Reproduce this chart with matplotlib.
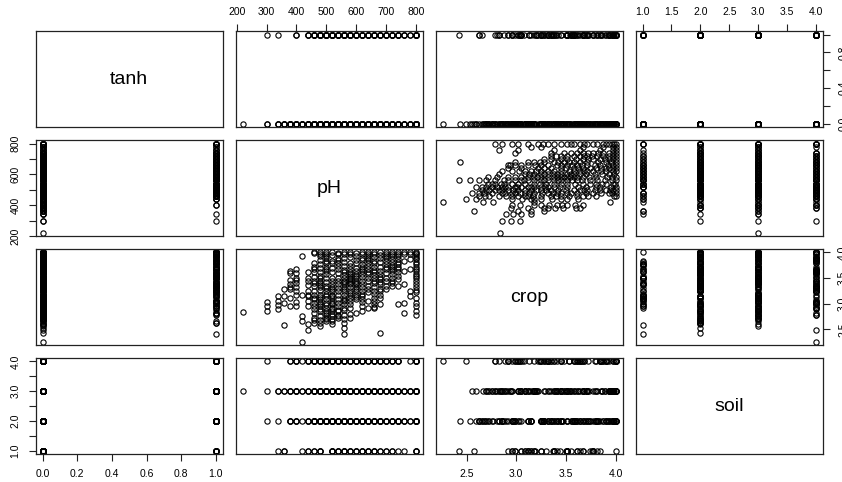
import matplotlib
matplotlib.use("Agg")
import matplotlib.pyplot as plt

plt.rcParams['font.family'] = ['Liberation Sans', 'DejaVu Sans']

# ---- data (one entry per observation, read column by column of the pH axis) ----
ph = [220,
      300, 300, 300,
      340, 340, 340, 340,
      360, 360, 360, 360,
      380, 380, 380, 380, 380, 380,
      400, 400, 400, 400, 400, 400, 400,
      420, 420, 420, 420, 420,
      440, 440, 440, 440, 440, 440, 440, 440,
      460, 460, 460, 460, 460, 460, 460, 460, 460, 460, 460, 460, 460,
      480, 480, 480, 480, 480, 480, 480, 480, 480, 480, 480, 480, 480, 480, 480, 480,
      500, 500, 500, 500, 500, 500, 500, 500, 500, 500, 500, 500, 500, 500, 500, 500, 500,
      520, 520, 520, 520, 520, 520, 520, 520, 520, 520, 520, 520, 520, 520, 520, 520,
      540, 540, 540, 540, 540, 540, 540, 540, 540, 540, 540, 540,
      560, 560, 560, 560, 560, 560, 560, 560, 560, 560, 560, 560, 560, 560, 560, 560, 560,
      580, 580, 580, 580, 580, 580, 580, 580, 580, 580, 580, 580, 580, 580,
      600, 600, 600, 600, 600, 600, 600, 600, 600, 600, 600,
      620, 620, 620, 620, 620, 620, 620, 620, 620, 620, 620, 620, 620, 620,
      640, 640, 640, 640, 640, 640, 640, 640, 640, 640, 640,
      660, 660, 660, 660, 660, 660, 660, 660, 660, 660, 660, 660, 660, 660,
      680, 680, 680, 680, 680, 680, 680, 680, 680, 680, 680,
      700, 700, 700, 700, 700, 700, 700, 700,
      720, 720, 720, 720, 720, 720, 720, 720, 720,
      740, 740, 740, 740, 740, 740, 740, 740, 740,
      760, 760, 760, 760, 760, 760, 760,
      780, 780, 780, 780, 780, 780,
      800, 800, 800, 800, 800, 800, 800, 800, 800, 800, 800, 800, 800, 800, 800, 800,
      # further observations in the dense part of the cloud
      380, 380,
      400, 400, 400,
      440, 440, 440,
      460, 460, 460, 460, 460, 460, 460, 460,
      480, 480, 480, 480, 480, 480, 480, 480, 480, 480,
      500, 500, 500, 500, 500, 500, 500, 500, 500, 500,
      520, 520, 520, 520, 520, 520, 520, 520, 520, 520,
      540, 540, 540, 540, 540, 540, 540, 540, 540, 540,
      560, 560, 560, 560, 560, 560, 560, 560, 560, 560,
      580, 580, 580, 580, 580, 580, 580, 580, 580, 580,
      600, 600, 600, 600, 600, 600, 600, 600,
      620, 620, 620, 620, 620, 620,
      640, 640, 640, 640, 640, 640,
      660, 660, 660, 660, 660, 660,
      680, 680, 680, 680, 680, 680,
      700, 700, 700, 700, 700,
      720, 720, 720, 720, 720,
      740, 740, 740, 740,
      800, 800, 800, 800, 800, 800, 800, 800]

crop = [2.84,
        3.04, 2.95, 2.86,
        3.15, 3.05, 2.97, 2.90,
        3.28, 3.15, 3.02, 2.58,
        3.64, 3.60, 3.39, 3.32, 3.28, 2.95,
        3.67, 3.51, 3.41, 3.33, 3.25, 3.18, 2.96,
        3.94, 3.18, 2.77, 2.67, 2.26,
        3.51, 3.45, 3.25, 3.18, 3.15, 2.96, 2.60, 2.49,
        4.00, 3.80, 3.67, 3.61, 3.45, 3.35, 3.25, 3.12, 3.09, 2.96, 2.83, 2.73, 2.63,
        4.00, 3.93, 3.77, 3.61, 3.51, 3.45, 3.41, 3.32, 3.18, 3.09, 2.99, 2.96, 2.86, 2.76, 2.63, 2.56,
        4.00, 3.97, 3.90, 3.84, 3.71, 3.64, 3.58, 3.35, 3.25, 3.15, 3.09, 3.02, 2.92, 2.86, 2.79, 2.73, 2.70,
        4.00, 3.84, 3.80, 3.51, 3.38, 3.32, 3.25, 3.18, 3.12, 3.05, 2.99, 2.92, 2.86, 2.76, 2.70, 2.60,
        3.97, 3.90, 3.80, 3.74, 3.67, 3.51, 3.38, 3.18, 3.09, 2.96, 2.79, 2.76,
        4.00, 3.74, 3.61, 3.51, 3.45, 3.38, 3.32, 3.25, 3.18, 3.12, 3.05, 2.99, 2.92, 2.70, 2.63, 2.53, 2.42,
        4.00, 3.67, 3.61, 3.58, 3.54, 3.51, 3.45, 3.38, 3.32, 3.25, 3.18, 3.12, 2.99, 2.92,
        3.93, 3.64, 3.58, 3.51, 3.45, 3.38, 3.32, 3.25, 3.18, 3.09, 2.83,
        4.00, 3.97, 3.90, 3.77, 3.71, 3.64, 3.58, 3.45, 3.32, 3.25, 3.15, 3.09, 2.96, 2.86,
        4.00, 3.97, 3.90, 3.80, 3.67, 3.58, 3.45, 3.35, 3.22, 3.05, 2.92,
        4.00, 3.97, 3.84, 3.71, 3.61, 3.51, 3.41, 3.32, 3.25, 3.12, 3.05, 2.99, 2.94, 2.92,
        4.00, 3.90, 3.71, 3.58, 3.48, 3.38, 3.28, 3.18, 3.12, 2.99, 2.43,
        4.00, 3.93, 3.84, 3.77, 3.67, 3.45, 3.35, 3.28,
        4.00, 3.97, 3.87, 3.71, 3.64, 3.58, 3.51, 3.45, 3.35,
        4.00, 3.93, 3.87, 3.77, 3.67, 3.61, 3.48, 3.35, 2.99,
        4.00, 3.97, 3.84, 3.64, 3.38, 3.02, 2.83,
        4.00, 3.97, 3.87, 3.67, 3.25, 3.15,
        4.00, 3.93, 3.87, 3.77, 3.71, 3.64, 3.58, 3.51, 3.45, 3.32, 3.22, 3.12, 3.02, 2.96, 2.86, 2.79,
        # further observations
        3.47, 3.12,
        3.59, 3.46, 3.04,
        3.62, 3.36, 3.06,
        3.98, 3.72, 3.53, 3.40, 3.17, 3.02, 2.90, 2.69,
        3.96, 3.85, 3.70, 3.55, 3.37, 3.26, 3.13, 3.04, 2.89, 2.68,
        3.94, 3.79, 3.68, 3.50, 3.42, 3.30, 3.20, 2.97, 2.83, 2.66,
        3.95, 3.70, 3.62, 3.44, 3.29, 3.15, 3.01, 2.81, 2.89, 2.66,
        3.99, 3.86, 3.59, 3.45, 3.30, 3.24, 3.02, 2.88, 2.85, 2.72,
        3.96, 3.89, 3.81, 3.66, 3.56, 3.42, 3.28, 3.08, 2.88, 2.79,
        3.96, 3.91, 3.80, 3.73, 3.48, 3.41, 3.21, 3.05, 2.81, 2.72,
        3.98, 3.86, 3.79, 3.70, 3.55, 3.41, 3.28, 3.13,
        3.85, 3.68, 3.53, 3.38, 3.20, 3.03,
        3.93, 3.85, 3.74, 3.62, 3.50, 3.28,
        3.92, 3.79, 3.66, 3.56, 3.45, 3.19,
        3.95, 3.82, 3.64, 3.53, 3.42, 3.24,
        3.97, 3.89, 3.72, 3.60, 3.51,
        3.93, 3.81, 3.76, 3.68, 3.40,
        3.97, 3.82, 3.72, 3.55,
        3.98, 3.96, 3.90, 3.81, 3.68, 3.55, 3.38, 3.27]

tanh = [0,
        1, 0, 0,
        0, 1, 0, 0,
        0, 0, 0, 0,
        0, 0, 0, 0, 0, 0,
        0, 1, 0, 0, 0, 0, 0,
        0, 0, 0, 0, 0,
        1, 0, 1, 0, 0, 0, 0, 0,
        1, 0, 1, 0, 0, 1, 0, 0, 0, 1, 0, 0, 0,
        1, 0, 1, 0, 1, 0, 0, 1, 0, 0, 1, 0, 0, 0, 1, 0,
        0, 1, 0, 1, 0, 0, 1, 0, 1, 0, 0, 1, 0, 0, 1, 0, 0,
        1, 0, 0, 1, 0, 0, 1, 0, 0, 1, 0, 1, 0, 0, 0, 0,
        0, 1, 0, 0, 1, 0, 1, 0, 0, 1, 0, 0,
        1, 0, 0, 1, 0, 0, 1, 0, 0, 0, 1, 0, 0, 0, 1, 0, 1,
        0, 1, 0, 0, 1, 0, 0, 1, 0, 0, 1, 0, 0, 1,
        1, 0, 0, 1, 0, 0, 0, 1, 0, 0, 0,
        0, 1, 0, 0, 1, 0, 0, 1, 0, 0, 1, 0, 0, 0,
        1, 0, 0, 1, 0, 1, 0, 0, 1, 0, 0,
        0, 1, 0, 0, 1, 0, 0, 1, 0, 0, 1, 0, 0, 0,
        1, 0, 0, 1, 0, 0, 1, 0, 0, 0, 0,
        0, 1, 0, 1, 0, 0, 1, 0,
        1, 0, 0, 1, 0, 1, 0, 0, 0,
        0, 1, 0, 0, 1, 0, 0, 1, 0,
        1, 0, 0, 1, 0, 0, 1,
        0, 1, 0, 1, 0, 0,
        1, 0, 0, 1, 0, 0, 1, 0, 0, 1, 0, 0, 0, 1, 0, 0,
        # further observations
        0, 0,
        0, 0, 1,
        0, 1, 0,
        0, 1, 0, 1, 0, 0, 0, 0,
        0, 1, 0, 0, 1, 0, 1, 0, 0, 0,
        1, 0, 0, 1, 0, 0, 1, 0, 1, 0,
        0, 1, 0, 0, 1, 0, 0, 1, 0, 1,
        1, 0, 0, 1, 0, 0, 1, 0, 0, 0,
        0, 1, 0, 0, 1, 0, 0, 1, 1, 0,
        1, 0, 0, 1, 0, 0, 1, 0, 0, 0,
        0, 1, 0, 0, 1, 0, 0, 1,
        0, 1, 0, 0, 1, 0,
        0, 1, 0, 1, 0, 0,
        1, 0, 0, 1, 0, 0,
        0, 1, 0, 0, 1, 0,
        1, 0, 0, 1, 0,
        0, 1, 0, 0, 1,
        1, 0, 0, 1,
        0, 1, 0, 0, 1, 0, 0, 1]

soil = [3,
        4, 3, 2,
        1, 3, 2, 3,
        3, 1, 3, 1,
        4, 2, 3, 4, 2, 3,
        2, 3, 4, 3, 2, 4, 3,
        3, 1, 2, 3, 4,
        2, 4, 1, 3, 2, 1, 3, 4,
        4, 3, 1, 2, 3, 4, 2, 1, 3, 2, 4, 3, 2,
        4, 2, 3, 1, 2, 4, 3, 2, 1, 3, 4, 2, 3, 2, 2, 3,
        2, 3, 4, 2, 3, 4, 2, 3, 4, 2, 3, 4, 2, 3, 4, 2, 3,
        1, 4, 2, 3, 1, 2, 4, 3, 2, 3, 1, 4, 2, 3, 2, 2,
        3, 2, 4, 1, 3, 2, 4, 3, 1, 2, 4, 3,
        3, 2, 4, 1, 3, 2, 4, 2, 3, 1, 3, 2, 4, 3, 2, 2, 1,
        2, 3, 4, 2, 3, 1, 2, 3, 4, 2, 3, 1, 2, 3,
        4, 2, 3, 1, 2, 3, 4, 2, 3, 1, 2,
        3, 4, 2, 1, 3, 2, 4, 3, 2, 1, 2, 3, 4, 2,
        2, 3, 4, 2, 1, 3, 2, 4, 3, 2, 1,
        3, 2, 4, 3, 2, 1, 3, 4, 2, 3, 1, 2, 3, 4,
        4, 2, 3, 2, 3, 1, 4, 3, 2, 1, 2,
        2, 3, 4, 1, 2, 3, 2, 4,
        3, 2, 4, 3, 1, 2, 3, 4, 2,
        2, 3, 4, 2, 3, 1, 3, 2, 4,
        3, 2, 1, 3, 2, 3, 2,
        4, 3, 2, 3, 2, 3,
        4, 3, 2, 1, 3, 2, 4, 3, 2, 3, 4, 2, 3, 1, 2, 3,
        # further observations
        2, 3,
        4, 2, 3,
        3, 2, 4,
        3, 2, 4, 2, 3, 4, 2, 2,
        3, 4, 2, 3, 1, 2, 3, 4, 3, 2,
        3, 2, 4, 3, 2, 4, 3, 2, 3, 2,
        2, 3, 4, 1, 3, 2, 4, 3, 4, 2,
        4, 3, 2, 3, 1, 4, 2, 3, 3, 2,
        2, 3, 1, 4, 2, 3, 2, 4, 2, 3,
        3, 4, 2, 3, 4, 2, 3, 1, 2, 3,
        2, 3, 4, 2, 3, 1, 2, 4,
        3, 2, 4, 1, 3, 2,
        3, 4, 2, 3, 1, 2,
        2, 3, 4, 2, 3, 1,
        3, 2, 4, 3, 2, 4,
        4, 3, 2, 3, 1,
        2, 3, 1, 4, 3,
        3, 2, 4, 2,
        2, 3, 4, 2, 3, 1, 4, 2]

var_names = ['tanh', 'pH', 'crop', 'soil']

# axis ticks and labels (horizontal axes show all labels; vertical axes skip some)
tick_pos = {'tanh': [0.0, 0.2, 0.4, 0.6, 0.8, 1.0],
            'pH': [200, 300, 400, 500, 600, 700, 800],
            'crop': [2.5, 3.0, 3.5, 4.0],
            'soil': [1.0, 1.5, 2.0, 2.5, 3.0, 3.5, 4.0]}
tick_lab_h = {'tanh': ['0.0', '0.2', '0.4', '0.6', '0.8', '1.0'],
              'pH': ['200', '300', '400', '500', '600', '700', '800'],
              'crop': ['2.5', '3.0', '3.5', '4.0'],
              'soil': ['1.0', '1.5', '2.0', '2.5', '3.0', '3.5', '4.0']}
tick_lab_v = {'tanh': ['0.0', '', '0.4', '', '0.8', ''],
              'pH': ['200', '', '400', '', '600', '', '800'],
              'crop': ['2.5', '3.0', '3.5', '4.0'],
              'soil': ['1.0', '', '2.0', '', '3.0', '', '4.0']}

n = len(ph)
assert len(crop) == n and len(tanh) == n and len(soil) == n, (len(ph), len(crop), len(tanh), len(soil))

data = {'tanh': tanh, 'pH': ph, 'crop': crop, 'soil': soil}

fig, axes = plt.subplots(4, 4, figsize=(8.42, 4.82), dpi=100)
fig.subplots_adjust(left=0.0424, right=0.9771, top=0.9357, bottom=0.0575,
                    wspace=0.0695, hspace=0.129)

TL = 4.8
for i, yname in enumerate(var_names):
    for j, xname in enumerate(var_names):
        ax = axes[i, j]
        xv = data[xname]
        yv = data[yname]
        # invisible points keep the same data ranges on the diagonal as well
        ax.plot(xv, yv, linestyle='none', marker='o', markerfacecolor='none',
                markeredgecolor='black', markersize=3.8, markeredgewidth=0.8,
                alpha=0.0 if i == j else 1.0)
        ax.margins(0.04)
        if i == j:
            ax.text(0.5, 0.5, yname, transform=ax.transAxes, ha='center',
                    va='center', fontsize=14)
        for s in ax.spines.values():
            s.set_linewidth(0.9)
            s.set_color('#222222')
        ax.tick_params(axis='both', which='both', top=False, bottom=False,
                       left=False, right=False, labeltop=False, labelbottom=False,
                       labelleft=False, labelright=False, length=TL, width=0.8,
                       labelsize=7.5, color='#222222')
        ax.tick_params(axis='x', pad=5.6)
        ax.tick_params(axis='y', pad=6.3)
        ax.set_xticks(tick_pos[xname])
        ax.set_yticks(tick_pos[yname])
        # R pairs() alternating axes
        if i == 0 and j in (1, 3):
            ax.set_xticklabels(tick_lab_h[xname])
            ax.tick_params(axis='x', top=True, labeltop=True)
        elif i == 3 and j in (0, 2):
            ax.set_xticklabels(tick_lab_h[xname])
            ax.tick_params(axis='x', bottom=True, labelbottom=True)
        if j == 0 and i in (1, 3):
            ax.set_yticklabels(tick_lab_v[yname], rotation=90, va='center')
            ax.tick_params(axis='y', left=True, labelleft=True)
        elif j == 3 and i in (0, 2):
            ax.set_yticklabels(tick_lab_v[yname], rotation=90, va='center')
            ax.tick_params(axis='y', right=True, labelright=True)

fig.savefig('out.png', dpi=100)
